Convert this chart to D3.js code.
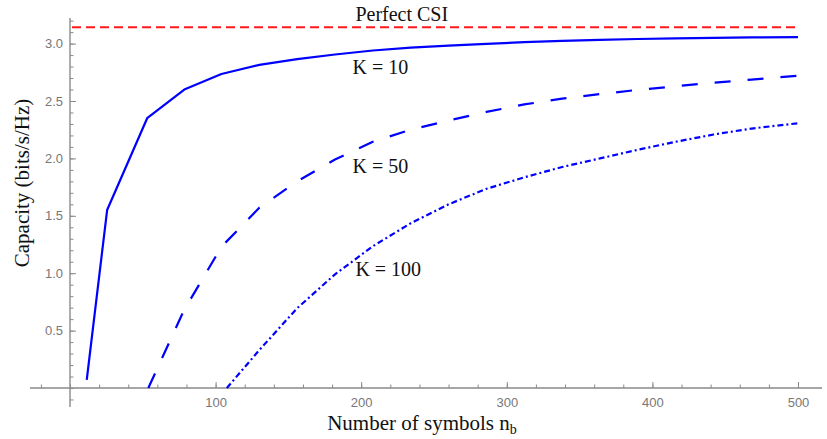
<!DOCTYPE html>
<html>
<head>
<meta charset="utf-8">
<script src="https://cdn.jsdelivr.net/npm/d3@7"></script>
<style>
  body { margin: 0; background: #fff; }
  .tick text { font-family: "Liberation Sans", Arial, sans-serif; font-size: 13px; fill: #777; }
  .lbl { font-family: "Liberation Serif", "Times New Roman", serif; fill: #111; }
</style>
</head>
<body>
<div id="chart"></div>
<script>
const width = 827, height = 439;

// capacity curves
const nbK10 = [11.5, 25.5, 53, 78.5, 104, 130, 156, 182, 208, 234, 260, 286, 312, 338, 364, 390, 416, 442, 468, 500];
const capK10 = [0.07, 1.55, 2.35, 2.6, 2.735, 2.815, 2.865, 2.905, 2.94, 2.965, 2.983, 2.998, 3.012, 3.024, 3.033, 3.04, 3.045, 3.05, 3.054, 3.057];

const nbK50 = [53.8, 78, 104, 130, 156, 182, 208, 234, 260, 286, 312, 338, 364, 390, 416, 442, 468, 500];
const capK50 = [0, 0.67, 1.23, 1.57, 1.8, 1.99, 2.145, 2.25, 2.33, 2.405, 2.47, 2.52, 2.56, 2.597, 2.628, 2.66, 2.686, 2.72];

const nbK100 = [107.7, 130, 156, 182, 208, 234, 260, 286, 312, 338, 364, 390, 416, 442, 468, 500];
const capK100 = [0, 0.33, 0.695, 0.99, 1.235, 1.435, 1.6, 1.735, 1.835, 1.925, 2.0, 2.075, 2.145, 2.208, 2.26, 2.306];

const perfectCSI = 3.1416;
const perfectRange = [0, 500];

const xMajor = [100, 200, 300, 400, 500];
const xMinor = d3.range(-20, 501, 20);
const yMajor = [0.5, 1.0, 1.5, 2.0, 2.5, 3.0];
const yMinor = d3.range(-1, 33).map((d) => d / 10);

const series = [
  { nb: nbK10, cap: capK10, dash: null },
  { nb: nbK50, cap: capK50, dash: "16,17" },
  { nb: nbK100, cap: capK100, dash: "6,3,2,3" },
];

const labels = [
  { text: "Perfect CSI", n: 196, c: 3.2 },
  { text: "K = 10", n: 194, c: 2.735 },
  { text: "K = 50", n: 194, c: 1.87 },
  { text: "K = 100", n: 196, c: 0.975 },
];

const svg = d3
  .select("#chart")
  .append("svg")
  .attr("width", width)
  .attr("height", height);

const x = d3.scaleLinear().domain([0, 500]).range([70, 798]);
const y = d3.scaleLinear().domain([0, 3]).range([388, 43.6]);

const axisColor = "#8a8a8a";

// x axis
const gx = svg.append("g").attr("transform", `translate(0,${y(0)})`);
gx.append("g")
  .call(d3.axisBottom(x).tickValues(xMinor).tickSize(-3.5).tickFormat(""))
  .call((g) => g.select(".domain").remove());
gx.append("g")
  .call(d3.axisBottom(x).tickValues(xMajor).tickSize(-6).tickPadding(9.5))
  .call((g) => g.select(".domain").remove());
gx.selectAll("line").attr("stroke", axisColor);
gx.append("line")
  .attr("x1", x(-27.5))
  .attr("x2", 822)
  .attr("stroke", axisColor)
  .attr("stroke-width", 1.4);

// y axis
const gy = svg.append("g").attr("transform", `translate(${x(0)},0)`);
gy.append("g")
  .call(d3.axisLeft(y).tickValues(yMinor).tickSize(-3.5).tickFormat(""))
  .call((g) => g.select(".domain").remove());
gy.append("g")
  .call(d3.axisLeft(y).tickValues(yMajor).tickSize(-6).tickPadding(7).tickFormat(d3.format(".1f")))
  .call((g) => g.select(".domain").remove());
gy.selectAll("line").attr("stroke", axisColor);
gy.append("line")
  .attr("y1", y(3.223))
  .attr("y2", y(-0.165))
  .attr("stroke", axisColor)
  .attr("stroke-width", 1.4);

// perfect CSI reference
svg.append("line")
  .attr("x1", x(perfectRange[0]) + 2)
  .attr("x2", x(perfectRange[1]))
  .attr("y1", y(perfectCSI))
  .attr("y2", y(perfectCSI))
  .attr("stroke", "#ff1a1a")
  .attr("stroke-width", 2)
  .attr("stroke-dasharray", "9,5");

const line = d3
  .line()
  .x((d) => x(d[0]))
  .y((d) => y(d[1]));

svg
  .append("g")
  .selectAll("path")
  .data(series)
  .join("path")
  .attr("d", (s) => line(d3.zip(s.nb, s.cap)))
  .attr("fill", "none")
  .attr("stroke", "#0000ff")
  .attr("stroke-width", 2.2)
  .attr("stroke-linejoin", "round")
  .attr("stroke-dasharray", (s) => s.dash);

svg
  .append("g")
  .selectAll("text")
  .data(labels)
  .join("text")
  .attr("class", "lbl")
  .attr("x", (d) => x(d.n))
  .attr("y", (d) => y(d.c))
  .attr("font-size", 20)
  .text((d) => d.text);

// axis titles
const xt = svg
  .append("text")
  .attr("class", "lbl")
  .attr("x", 422)
  .attr("y", 430)
  .attr("text-anchor", "middle")
  .attr("font-size", 21);
xt.append("tspan").text("Number of symbols n");
xt.append("tspan").attr("font-size", 14).attr("dy", 4).text("b");

svg
  .append("text")
  .attr("class", "lbl")
  .attr("transform", "translate(28.5,183) rotate(-90)")
  .attr("text-anchor", "middle")
  .attr("font-size", 21)
  .text("Capacity (bits/s/Hz)");
</script>
</body>
</html>
